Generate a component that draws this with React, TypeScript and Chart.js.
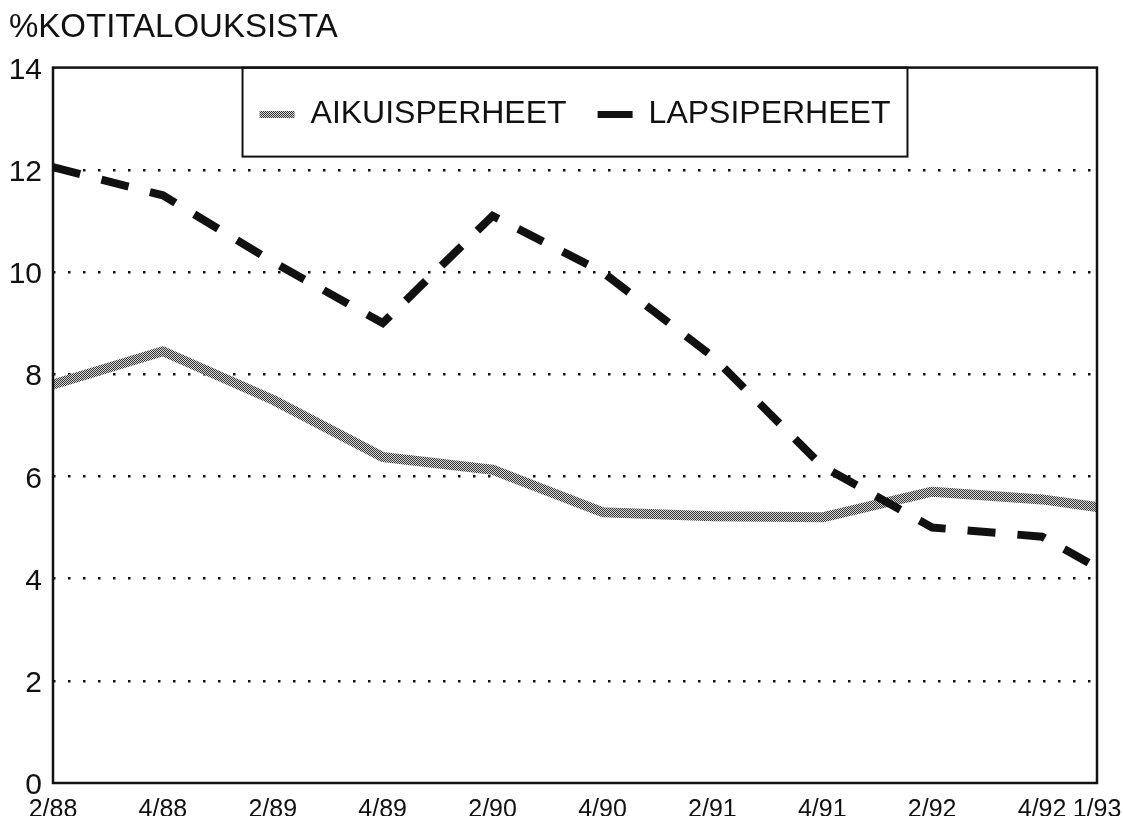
import React, { useEffect, useRef } from 'react';
import { Chart, registerables } from 'chart.js';

Chart.register(...registerables);

// ---- data ----
const periods = ['2/88', '4/88', '2/89', '4/89', '2/90', '4/90', '2/91', '4/91', '2/92', '4/92', '1/93'];
const aikuisperheet = [7.8, 8.45, 7.5, 6.38, 6.13, 5.3, 5.22, 5.2, 5.7, 5.55, 5.4];
const lapsiperheet = [12.05, 11.5, 10.2, 9.0, 11.1, 10.0, 8.35, 6.2, 5.0, 4.82, 4.22];
const seriesNames = ['AIKUISPERHEET', 'LAPSIPERHEET'];
const yTicks = [0, 2, 4, 6, 8, 10, 12, 14];
const yTitle = '%KOTITALOUKSISTA';

// position on the time axis in quarters, from the "quarter/year" label
const quarterIndex = (p: string) => {
  const [q, yy] = p.split('/').map(Number);
  return (yy - 88) * 4 + (q - 2);
};

const FONT = "'Liberation Sans', Arial, Helvetica, sans-serif";
const INK = '#111';

export default function App() {
  const ref = useRef<HTMLCanvasElement>(null);

  useEffect(() => {
    const canvas = ref.current!;
    const pc = document.createElement('canvas');
    pc.width = 4;
    pc.height = 4;
    const p = pc.getContext('2d')!;
    p.fillStyle = '#d4d4d4';
    p.fillRect(0, 0, 4, 4);
    p.fillStyle = '#363636';
    for (let i = 0; i < 4; i++) for (let j = 0; j < 4; j++) if ((i + j) % 2 === 0) p.fillRect(i, j, 1, 1);
    const pattern = canvas.getContext('2d')!.createPattern(pc, 'repeat')!;

    const xs = periods.map(quarterIndex);

    const frame = {
      id: 'frame',
      beforeDraw(chart: any) {
        // the legend sits inside the plot frame: widen its clip box downwards
        const lg = chart.legend;
        if (lg) {
          lg.bottom = lg.top + 120;
          lg.height = 120;
        }
      },
      afterDraw(chart: any) {
        const { ctx, chartArea: a } = chart;
        ctx.save();
        ctx.strokeStyle = INK;
        ctx.lineWidth = 2.5;
        ctx.strokeRect(a.left, a.top, a.right - a.left, a.bottom - a.top);
        const hb = chart.legend?.legendHitBoxes;
        if (hb && hb.length) {
          const l = Math.min(...hb.map((h: any) => h.left)) - 17;
          const r = Math.max(...hb.map((h: any) => h.left + h.width)) + 17;
          const b = Math.max(...hb.map((h: any) => h.top + h.height)) + 26;
          ctx.lineWidth = 2;
          ctx.strokeRect(l, a.top, r - l, b - a.top);
        }
        ctx.restore();
      },
    };

    const chart = new Chart(canvas, {
      type: 'line',
      data: {
        datasets: [
          {
            label: seriesNames[0],
            data: xs.map((x, i) => ({ x, y: aikuisperheet[i] })),
            borderColor: pattern,
            backgroundColor: pattern,
            borderWidth: 10,
            pointRadius: 0,
            tension: 0,
            borderJoinStyle: 'round',
            order: 2,
          },
          {
            label: seriesNames[1],
            data: xs.map((x, i) => ({ x, y: lapsiperheet[i] })),
            borderColor: INK,
            backgroundColor: INK,
            borderWidth: 8,
            borderDash: [28, 22],
            borderCapStyle: 'butt',
            borderJoinStyle: 'miter',
            pointRadius: 0,
            tension: 0,
            order: 1,
          },
        ],
      },
      options: {
        responsive: false,
        animation: false,
        devicePixelRatio: 1,
        layout: { padding: { left: 9, right: 26, top: 0, bottom: 0 } },
        plugins: {
          tooltip: { enabled: false },
          title: {
            display: true,
            text: yTitle,
            align: 'start',
            color: INK,
            font: { family: FONT, size: 33, weight: 'normal' },
            padding: { top: 8, bottom: 20 },
          },
          legend: {
            position: 'top',
            align: 'center',
            fullSize: false,
            maxHeight: 0.001,
            labels: {
              boxWidth: 35,
              boxHeight: 7,
              padding: 31,
              color: INK,
              font: { family: FONT, size: 32 },
              sort: (a: any, b: any) => a.datasetIndex - b.datasetIndex,
              generateLabels: (c: any) =>
                Chart.defaults.plugins.legend.labels.generateLabels(c).map((it: any) => ({
                  ...it,
                  lineWidth: 0,
                  lineDash: [],
                  strokeStyle: 'rgba(0,0,0,0)',
                })),
            },
          },
        },
        scales: {
          x: {
            type: 'linear',
            min: xs[0],
            max: xs[xs.length - 1],
            afterBuildTicks: (scale: any) => {
              scale.ticks = xs.map((v) => ({ value: v }));
            },
            afterFit: (scale: any) => {
              scale.height = 33;
              scale.paddingLeft = 0;
              scale.paddingRight = 0;
            },
            grid: { display: false, drawTicks: false },
            border: { display: false },
            ticks: {
              autoSkip: false,
              maxRotation: 0,
              minRotation: 0,
              padding: 12,
              color: INK,
              font: { family: FONT, size: 25 },
              callback: (v: any) => periods[xs.indexOf(Number(v))] ?? '',
            },
          },
          y: {
            min: yTicks[0],
            max: yTicks[yTicks.length - 1],
            afterBuildTicks: (scale: any) => {
              scale.ticks = yTicks.map((v) => ({ value: v }));
            },
            afterFit: (scale: any) => {
              scale.width = 44;
            },
            grid: {
              drawTicks: false,
              lineWidth: 2.5,
              color: (ctx: any) =>
                ctx.tick && (ctx.tick.value === yTicks[0] || ctx.tick.value === yTicks[yTicks.length - 1])
                  ? 'rgba(0,0,0,0)'
                  : INK,
            },
            border: { display: false, dash: [2.5, 12.5] },
            ticks: {
              padding: 11,
              labelOffset: 3,
              color: INK,
              font: { family: FONT, size: 30 },
            },
          },
        },
      },
      plugins: [frame],
    } as any);

    return () => chart.destroy();
  }, []);

  return (
    <div style={{ position: 'fixed', left: 0, top: 0, width: 1123, height: 816, background: '#fff' }}>
      <canvas ref={ref} width={1123} height={816} style={{ width: 1123, height: 816, display: 'block' }} />
    </div>
  );
}
